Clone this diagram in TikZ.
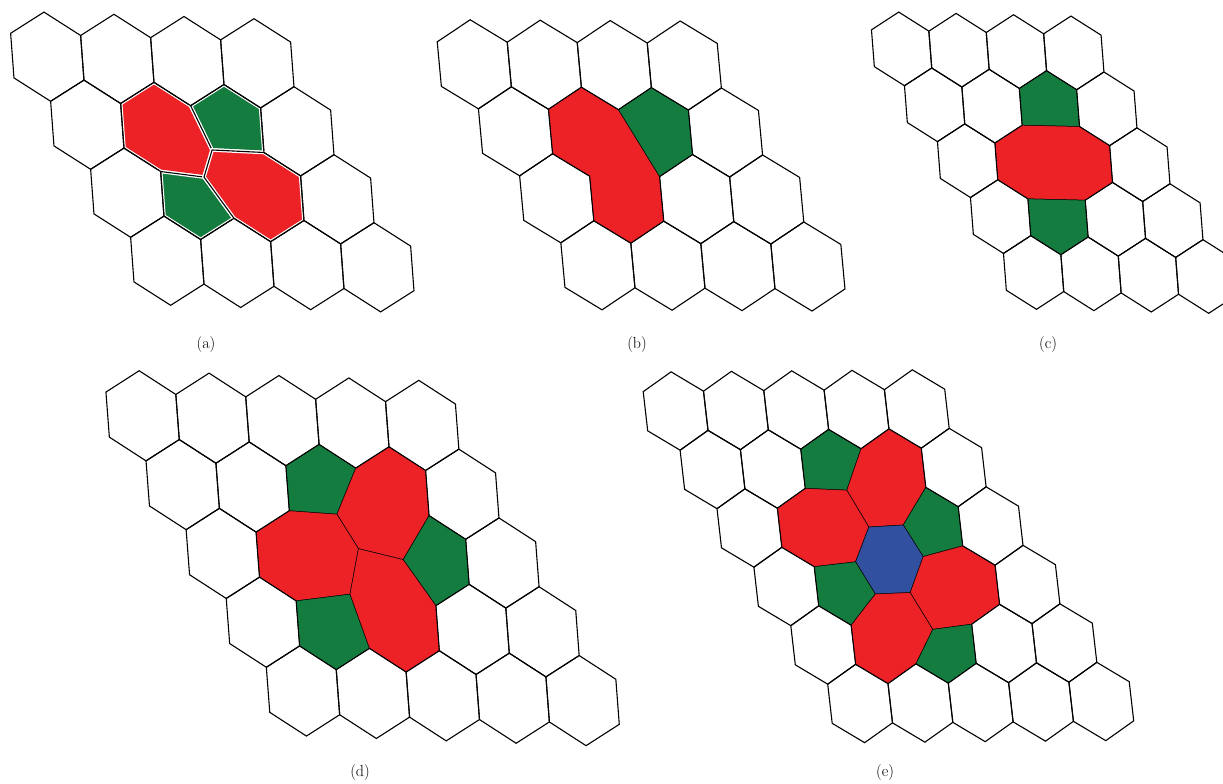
\documentclass[tikz,border=0pt]{standalone}
\usepackage{xcolor}
\definecolor{ringred}{HTML}{EC2227}
\definecolor{ringgreen}{HTML}{157C3F}
\definecolor{ringblue}{HTML}{3250A0}

\tikzset{
  cell/.style={draw=black, line width=1.1pt},
  hepta/.style={fill=ringred, draw=black, line width=0.5pt},
  penta/.style={fill=ringgreen, draw=black, line width=0.5pt},
  hexa/.style={fill=ringblue, draw=black, line width=0.5pt},
  haloed/.style={fill=#1, postaction={draw=white, line width=3.6pt},
    postaction={draw=black, line width=1.1pt}},
  caption/.style={font=\fontsize{16}{19}\selectfont, inner sep=0pt}
}

% one regular cell of the lattice, centre (#1,#2) in lattice units
\newcommand{\hexcell}[2]{%
  \draw[cell] (#1+1/3,#2+1/3) -- (#1-1/3,#2+2/3) -- (#1-2/3,#2+1/3)
    -- (#1-1/3,#2-1/3) -- (#1+1/3,#2-2/3) -- (#1+2/3,#2-1/3) -- cycle;}

\begin{document}
\begin{tikzpicture}
  \fill[white] (0,0) rectangle (1223pt,-784pt);
  \path[use as bounding box] (0,0) rectangle (1223pt,-784pt);
  \clip (0,0) rectangle (1223pt,-784pt);

  % (a) Stone-Wales
  \begin{scope}[shift={(47.3pt,-56.7pt)}, x={(70pt,-2.2pt)}, y={(40pt,-68pt)}]
    \coordinate (aw1) at (1.6,1.32);
    \coordinate (aw2) at (1.25,1.73);
    \path[haloed=ringred] (4/3,1/3) -- (5/3,2/3) -- (aw1) -- (aw2) -- (2/3,5/3) -- (1/3,4/3) -- (2/3,2/3) -- cycle;
    \path[haloed=ringgreen] (5/3,2/3) -- (7/3,1/3) -- (8/3,2/3) -- (7/3,4/3) -- (aw1) -- cycle;
    \path[haloed=ringgreen] (2/3,5/3) -- (aw2) -- (4/3,7/3) -- (2/3,8/3) -- (1/3,7/3) -- cycle;
    \path[haloed=ringred] (7/3,4/3) -- (8/3,5/3) -- (7/3,7/3) -- (5/3,8/3) -- (4/3,7/3) -- (aw2) -- (aw1) -- cycle;
    \foreach \c/\r in {0/0,1/0,2/0,3/0, 0/1,3/1, 0/2,3/2, 0/3,1/3,2/3,3/3}
      {\hexcell{\c}{\r}}
  \end{scope}
  \node[caption] (capa) at (206pt,-345pt) {(a)};

  % (b) single vacancy
  \begin{scope}[shift={(474.3pt,-64.3pt)}, x={(70pt,-0.4pt)}, y={(41.2pt,-67pt)}]
    \filldraw[hepta] (2/3,2/3) -- (4/3,1/3) -- (5/3,2/3) -- (5/3,5/3) -- (4/3,7/3) -- (2/3,8/3)
      -- (1/3,7/3) -- (2/3,5/3) -- (1/3,4/3) -- cycle;
    \filldraw[penta] (5/3,2/3) -- (7/3,1/3) -- (8/3,2/3) -- (7/3,4/3) -- (5/3,5/3) -- cycle;
    \foreach \c/\r in {0/0,1/0,2/0,3/0, 0/1,3/1, 0/2,2/2,3/2, 0/3,1/3,2/3,3/3}
      {\hexcell{\c}{\r}}
  \end{scope}
  \node[caption] (capb) at (637pt,-345pt) {(b)};

  % (c) 5-8-5
  \begin{scope}[shift={(901.6pt,-48.9pt)}, x={(57.4pt,-1.33pt)}, y={(33pt,-55.9pt)}]
    \filldraw[penta] (4/3,4/3) -- (5/3,2/3) -- (7/3,1/3) -- (8/3,2/3) -- (7/3,4/3) -- cycle;
    \filldraw[hepta] (2/3,5/3) -- (4/3,4/3) -- (7/3,4/3) -- (8/3,5/3) -- (7/3,7/3) -- (5/3,8/3)
      -- (2/3,8/3) -- (1/3,7/3) -- cycle;
    \filldraw[penta] (2/3,8/3) -- (5/3,8/3) -- (4/3,10/3) -- (2/3,11/3) -- (1/3,10/3) -- cycle;
    \foreach \c/\r in {0/0,1/0,2/0,3/0, 0/1,1/1,3/1, 0/2,3/2, 0/3,2/3,3/3, 0/4,1/4,2/4,3/4}
      {\hexcell{\c}{\r}}
  \end{scope}
  \node[caption] (capc) at (1048pt,-345pt) {(c)};

  % (d) 555-777
  \begin{scope}[shift={(142.6pt,-415.8pt)}, x={(69.9pt,-2.4pt)}, y={(40.1pt,-68.8pt)}]
    \coordinate (dp1) at (2,1.36);
    \coordinate (dx) at (2.02,1.86);
    \coordinate (dp3) at (2.58,2.0);
    \coordinate (dp2) at (1.51,2.54);
    \filldraw[penta] (5/3,2/3) -- (7/3,1/3) -- (8/3,2/3) -- (dp1) -- (4/3,4/3) -- cycle;
    \filldraw[hepta] (8/3,2/3) -- (10/3,1/3) -- (11/3,2/3) -- (10/3,4/3) -- (dp3) -- (dx) -- (dp1) -- cycle;
    \filldraw[hepta] (2/3,5/3) -- (4/3,4/3) -- (dp1) -- (dx) -- (dp2) -- (2/3,8/3) -- (1/3,7/3) -- cycle;
    \filldraw[penta] (dp3) -- (10/3,4/3) -- (11/3,5/3) -- (10/3,7/3) -- (8/3,8/3) -- cycle;
    \filldraw[penta] (2/3,8/3) -- (dp2) -- (4/3,10/3) -- (2/3,11/3) -- (1/3,10/3) -- cycle;
    \filldraw[hepta] (dp2) -- (dx) -- (dp3) -- (8/3,8/3) -- (7/3,10/3) -- (5/3,11/3) -- (4/3,10/3) -- cycle;
    \foreach \c/\r in {0/0,1/0,2/0,3/0,4/0, 0/1,1/1,4/1, 0/2,4/2, 0/3,3/3,4/3,
                       0/4,1/4,2/4,3/4,4/4}
      {\hexcell{\c}{\r}}
  \end{scope}
  \node[caption] (capd) at (360pt,-772pt) {(d)};

  % (e) 5555-6-7777
  \begin{scope}[shift={(675.6pt,-411pt)}, x={(60.3pt,0.5pt)}, y={(36.9pt,-58.5pt)}]
    \coordinate (eq1) at (2,1.37);
    \coordinate (eq2) at (2.57,1.97);
    \coordinate (eq3) at (1.98,2.0);
    \coordinate (eq4) at (1.4,2.59);
    \coordinate (eq5) at (2.57,2.51);
    \coordinate (eq6) at (1.98,3.12);
    \coordinate (eq7) at (1.39,3.14);
    \coordinate (eq8) at (1.97,3.75);
    \filldraw[penta] (5/3,2/3) -- (7/3,1/3) -- (8/3,2/3) -- (eq1) -- (4/3,4/3) -- cycle;
    \filldraw[hepta] (8/3,2/3) -- (10/3,1/3) -- (11/3,2/3) -- (10/3,4/3) -- (eq2) -- (eq3) -- (eq1) -- cycle;
    \filldraw[hepta] (2/3,5/3) -- (4/3,4/3) -- (eq1) -- (eq3) -- (eq4) -- (2/3,8/3) -- (1/3,7/3) -- cycle;
    \filldraw[penta] (10/3,4/3) -- (11/3,5/3) -- (10/3,7/3) -- (eq5) -- (eq2) -- cycle;
    \filldraw[hexa] (eq3) -- (eq2) -- (eq5) -- (eq6) -- (eq7) -- (eq4) -- cycle;
    \filldraw[hepta] (eq5) -- (10/3,7/3) -- (11/3,8/3) -- (10/3,10/3) -- (8/3,11/3) -- (eq8) -- (eq6) -- cycle;
    \filldraw[penta] (2/3,8/3) -- (eq4) -- (eq7) -- (2/3,11/3) -- (1/3,10/3) -- cycle;
    \filldraw[hepta] (2/3,11/3) -- (eq7) -- (eq6) -- (eq8) -- (4/3,13/3) -- (2/3,14/3) -- (1/3,13/3) -- cycle;
    \filldraw[penta] (eq8) -- (8/3,11/3) -- (7/3,13/3) -- (5/3,14/3) -- (4/3,13/3) -- cycle;
    \foreach \c/\r in {0/0,1/0,2/0,3/0,4/0, 0/1,1/1,4/1, 0/2,4/2, 0/3,4/3,
                       0/4,3/4,4/4, 0/5,1/5,2/5,3/5,4/5}
      {\hexcell{\c}{\r}}
  \end{scope}
  \node[caption] (cape) at (885pt,-772pt) {(e)};
\end{tikzpicture}
\end{document}
